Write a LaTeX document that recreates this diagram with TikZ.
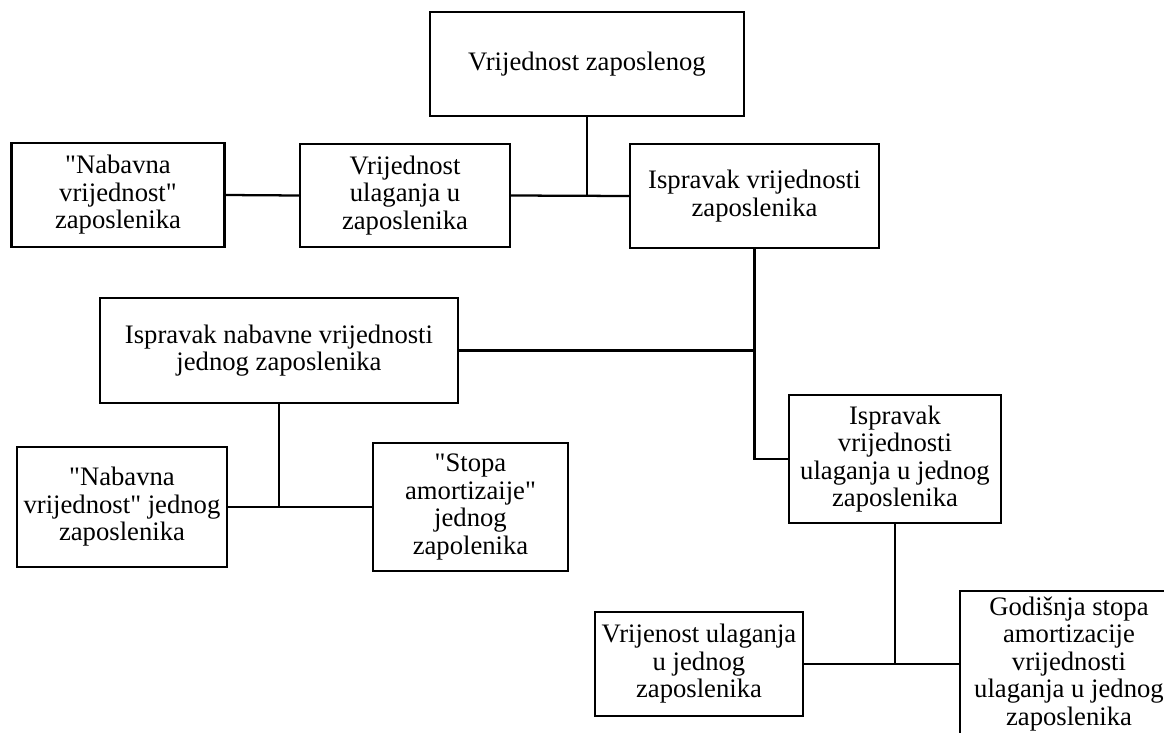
\documentclass[tikz,border=0pt]{standalone}
\usepackage{fontspec}
\setmainfont{Liberation Serif}
\usepackage{tikz}
\tikzset{
	box/.style 2 args={draw,line width=1.7pt,inner sep=0pt,align=center,font=\fontsize{20}{20.6}\selectfont,minimum width=#1*0.75pt,minimum height=#2*0.75pt},
	link/.style={line width=1.7pt}
}

\begin{document}
\begin{tikzpicture}[x=0.75pt,y=-0.75pt]
	\useasboundingbox (0,0) rectangle (1164,732);
	\clip (0,0) rectangle (1164,732);

	\node [box={314}{104}] (vz) at (587,64) {Vrijednost zaposlenog};
	\node [box={213}{104}] (nvz) at (118,195) {\textquotedbl Nabavna\\vrijednost\textquotedbl\\zaposlenika};
	\node [box={210}{103}] (vul) at (405,195.5) {Vrijednost\\ulaganja u\\zaposlenika};
	\node [box={249}{104}] (izap) at (754.5,196) {Ispravak vrijednosti\\zaposlenika};
	\node [box={358}{105}] (inv) at (279,350.5) {Ispravak nabavne vrijednosti\\jednog zaposlenika};
	\node [box={212}{128}] (ivu) at (895,459) {Ispravak\\vrijednosti\\ulaganja u jednog\\zaposlenika};
	\node [box={210}{120}] (nvj) at (122,507) {\textquotedbl Nabavna\\vrijednost\textquotedbl{} jednog\\zaposlenika};
	\node [box={195}{128}] (saj) at (470.5,507) {\textquotedbl Stopa\\amortizaije\textquotedbl\\jednog\\zapolenika};
	\node [box={208}{104}] (vuj) at (699,664) {Vrijenost ulaganja\\u jednog\\zaposlenika};
	\node [box={218}{146}] (gsa) at (1069,664) {Godišnja stopa\\amortizacije\\vrijednosti\\ulaganja u jednog\\zaposlenika};

	\draw [link] (vz.south) -- (vz.south |- izap.west);
	\draw [link] (vul.east) -- (izap.west);
	\draw [link] (nvz.east) -- (vul.west);
	\draw [link] (izap.south) |- (ivu.west);
	\draw [link] (inv.east) -- (inv.east -| izap.south);
	\draw [link] (inv.south) -- (inv.south |- nvj.east);
	\draw [link] (nvj.east) -- (saj.west);
	\draw [link] (ivu.south) -- (ivu.south |- vuj.east);
	\draw [link] (vuj.east) -- (vuj.east -| gsa.west);
\end{tikzpicture}
\end{document}
